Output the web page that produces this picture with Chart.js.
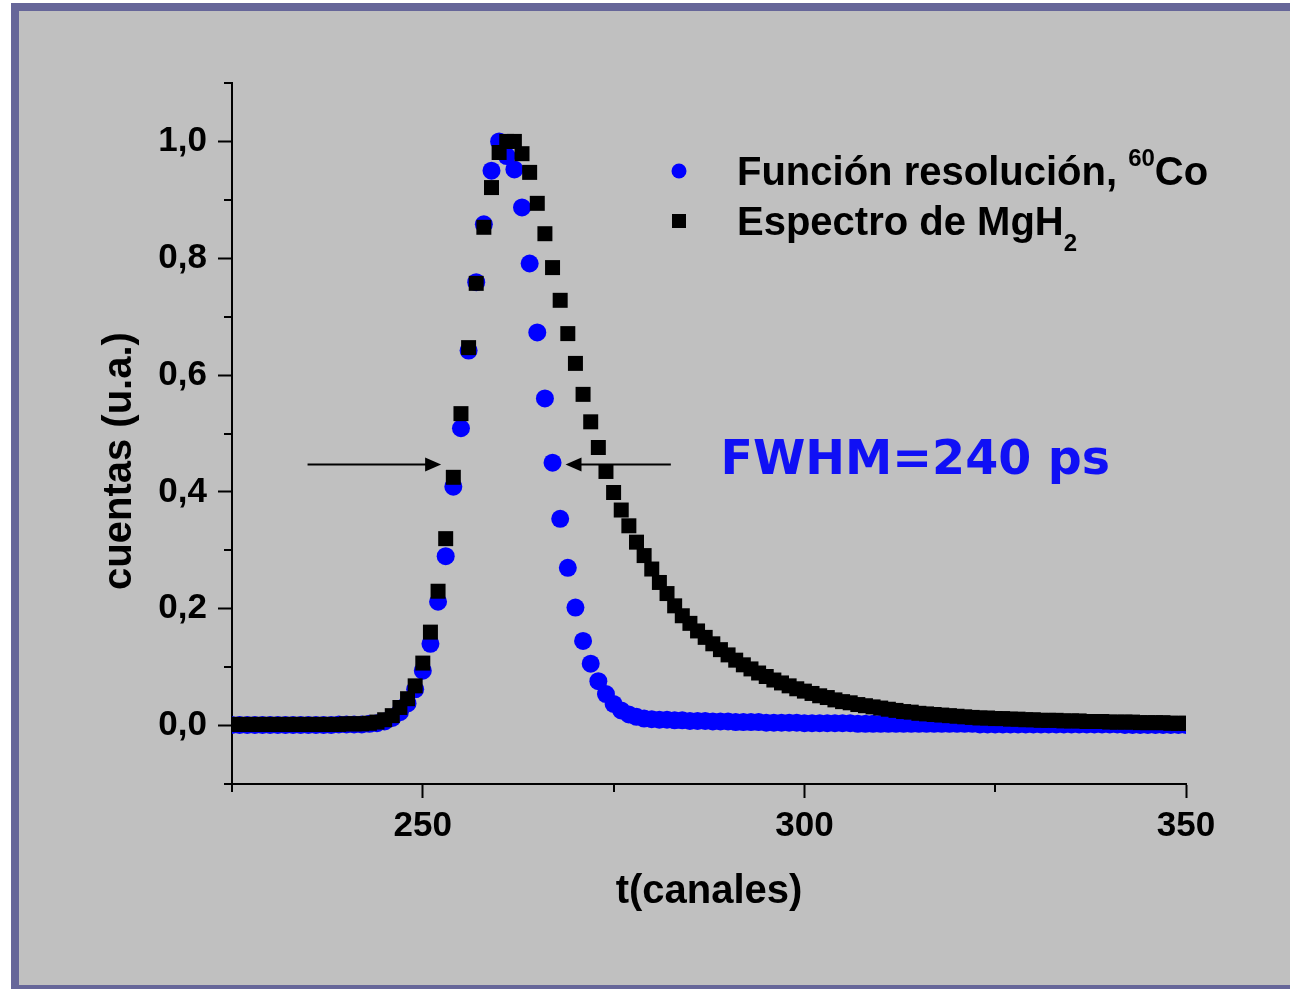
<!DOCTYPE html>
<html>
<head>
<meta charset="utf-8">
<title>Función resolución y espectro de MgH2</title>
<script src="https://cdn.jsdelivr.net/npm/chart.js"></script>
<style>
    html, body { margin: 0; padding: 0; background: #fff; overflow: hidden; }
    .frame { position: absolute; left: 11px; top: 3px; width: 1320px; height: 990px; box-sizing: border-box; border: 8px solid #666699; background: #c0c0c0; }
    #chart { position: absolute; left: 0; top: 0; }
</style>
</head>
<body>
<div class="frame"></div>
<canvas id="chart" width="1290" height="989"></canvas>

<script>
    // channels (t, canales)
    const channels = [
        225, 226, 227, 228, 229, 230, 231, 232, 233, 234, 235, 236, 237, 238, 239, 240, 241, 242, 243, 244,
        245, 246, 247, 248, 249, 250, 251, 252, 253, 254, 255, 256, 257, 258, 259, 260, 261, 262, 263, 264,
        265, 266, 267, 268, 269, 270, 271, 272, 273, 274, 275, 276, 277, 278, 279, 280, 281, 282, 283, 284,
        285, 286, 287, 288, 289, 290, 291, 292, 293, 294, 295, 296, 297, 298, 299, 300, 301, 302, 303, 304,
        305, 306, 307, 308, 309, 310, 311, 312, 313, 314, 315, 316, 317, 318, 319, 320, 321, 322, 323, 324,
        325, 326, 327, 328, 329, 330, 331, 332, 333, 334, 335, 336, 337, 338, 339, 340, 341, 342, 343, 344,
        345, 346, 347, 348, 349, 350
    ];

    // Función resolución, 60Co
    const resolucion = [
        0.001, 0.001, 0.001, 0.001, 0.001, 0.001, 0.001, 0.001, 0.001, 0.001, 0.001, 0.001, 0.001, 0.001, 0.002, 0.002, 0.002, 0.002, 0.003, 0.004,
        0.007, 0.013, 0.023, 0.038, 0.062, 0.094, 0.140, 0.212, 0.290, 0.409, 0.509, 0.642, 0.759, 0.858, 0.950, 1.000, 0.975, 0.952, 0.887, 0.791,
        0.673, 0.560, 0.450, 0.354, 0.270, 0.202, 0.145, 0.106, 0.076, 0.054, 0.037, 0.026, 0.019, 0.015, 0.012, 0.011, 0.010, 0.010, 0.009, 0.009,
        0.008, 0.008, 0.008, 0.007, 0.007, 0.007, 0.006, 0.006, 0.006, 0.006, 0.005, 0.005, 0.005, 0.005, 0.005, 0.004, 0.004, 0.004, 0.004, 0.004,
        0.004, 0.004, 0.003, 0.003, 0.003, 0.003, 0.003, 0.003, 0.003, 0.003, 0.003, 0.003, 0.003, 0.003, 0.003, 0.003, 0.003, 0.003, 0.002, 0.002,
        0.002, 0.002, 0.002, 0.002, 0.002, 0.002, 0.002, 0.002, 0.002, 0.002, 0.002, 0.002, 0.002, 0.002, 0.002, 0.002, 0.002, 0.001, 0.001, 0.001,
        0.001, 0.001, 0.001, 0.001, 0.001, 0.001
    ];

    // Espectro de MgH2
    const espectro = [
        0.002, 0.002, 0.002, 0.002, 0.002, 0.002, 0.002, 0.002, 0.002, 0.002, 0.002, 0.002, 0.002, 0.002, 0.002, 0.003, 0.003, 0.003, 0.004, 0.006,
        0.010, 0.017, 0.031, 0.046, 0.068, 0.107, 0.160, 0.230, 0.320, 0.425, 0.534, 0.647, 0.757, 0.853, 0.921, 0.981, 1.000, 1.000, 0.979, 0.947,
        0.894, 0.842, 0.784, 0.728, 0.671, 0.620, 0.567, 0.520, 0.476, 0.435, 0.399, 0.369, 0.342, 0.314, 0.291, 0.268, 0.245, 0.226, 0.205, 0.188,
        0.175, 0.162, 0.151, 0.140, 0.130, 0.121, 0.112, 0.104, 0.097, 0.090, 0.084, 0.078, 0.073, 0.068, 0.063, 0.059, 0.055, 0.051, 0.048, 0.044,
        0.041, 0.039, 0.036, 0.034, 0.032, 0.030, 0.028, 0.026, 0.024, 0.023, 0.021, 0.020, 0.019, 0.018, 0.017, 0.016, 0.015, 0.014, 0.013, 0.013,
        0.012, 0.012, 0.011, 0.011, 0.010, 0.010, 0.009, 0.009, 0.009, 0.008, 0.008, 0.008, 0.007, 0.007, 0.007, 0.006, 0.006, 0.006, 0.006, 0.005,
        0.005, 0.005, 0.005, 0.004, 0.004, 0.004
    ];

    const xTicks = [250, 300, 350];
    const xMinorTicks = [225, 275, 325];
    const yTicks = [0, 0.2, 0.4, 0.6, 0.8, 1.0];
    const yMinorTicks = [-0.1, 0.1, 0.3, 0.5, 0.7, 0.9, 1.1];

    const FONT = '"Liberation Sans", Arial, sans-serif';

    function arrow(ctx, x1, y1, x2, y2) {
        const dir = Math.sign(x2 - x1);
        ctx.beginPath();
        ctx.moveTo(x1, y1);
        ctx.lineTo(x2 - dir * 12, y2);
        ctx.stroke();
        ctx.beginPath();
        ctx.moveTo(x2, y2);
        ctx.lineTo(x2 - dir * 16, y2 - 7);
        ctx.lineTo(x2 - dir * 16, y2 + 7);
        ctx.closePath();
        ctx.fill();
    }

    const extras = {
        id: 'extras',
        afterDraw(chart) {
            const { ctx, chartArea, scales } = chart;
            const x = scales.x, y = scales.y;
            ctx.save();
            ctx.strokeStyle = '#000';
            ctx.fillStyle = '#000';
            ctx.lineWidth = 2;

            // minor ticks
            yMinorTicks.forEach(v => {
                const py = Math.round(y.getPixelForValue(v));
                ctx.beginPath();
                ctx.moveTo(chartArea.left, py);
                ctx.lineTo(chartArea.left - 8, py);
                ctx.stroke();
            });
            xMinorTicks.forEach(v => {
                const px = Math.round(x.getPixelForValue(v));
                ctx.beginPath();
                ctx.moveTo(px, chartArea.bottom);
                ctx.lineTo(px, chartArea.bottom + 8);
                ctx.stroke();
            });

            // FWHM arrows
            const ay = y.getPixelForValue(0.447);
            arrow(ctx, x.getPixelForValue(234.9), ay, x.getPixelForValue(252.4), ay);
            arrow(ctx, x.getPixelForValue(282.5), ay, x.getPixelForValue(268.7), ay);

            ctx.fillStyle = '#1010f5';
            ctx.font = 'bold 47.5px "DejaVu Sans", Verdana, sans-serif';
            ctx.textBaseline = 'middle';
            ctx.textAlign = 'left';
            ctx.fillText('FWHM=240 ps', x.getPixelForValue(289.0), y.getPixelForValue(0.452));

            // legend
            ctx.fillStyle = '#0000ff';
            ctx.beginPath();
            ctx.arc(679, 171, 7.5, 0, Math.PI * 2);
            ctx.fill();
            ctx.fillStyle = '#000';
            ctx.fillRect(672, 214, 14, 14);

            ctx.textBaseline = 'alphabetic';
            ctx.font = 'bold 40px ' + FONT;
            let tx = 737;
            const t1 = 'Función resolución, ';
            ctx.fillText(t1, tx, 185);
            tx += ctx.measureText(t1).width;
            ctx.font = 'bold 24px ' + FONT;
            ctx.fillText('60', tx, 166);
            tx += ctx.measureText('60').width;
            ctx.font = 'bold 40px ' + FONT;
            ctx.fillText('Co', tx, 185);

            const t2 = 'Espectro de MgH';
            ctx.fillText(t2, 737, 235);
            const tx2 = 737 + ctx.measureText(t2).width;
            ctx.font = 'bold 24px ' + FONT;
            ctx.fillText('2', tx2, 251);

            // axis titles
            ctx.font = 'bold 40px ' + FONT;
            ctx.textAlign = 'center';
            ctx.textBaseline = 'middle';
            ctx.fillText('t(canales)', (chartArea.left + chartArea.right) / 2, 892);
            ctx.translate(120, 461);
            ctx.rotate(-Math.PI / 2);
            ctx.fillText('cuentas (u.a.)', 0, 0);

            ctx.restore();
        }
    };

    const ctx = document.getElementById('chart').getContext('2d');
    const chart = new Chart(ctx, {
        type: 'scatter',
        data: {
            datasets: [
                {
                    label: 'Función resolución, 60Co',
                    data: channels.map((c, i) => ({ x: c, y: resolucion[i] })),
                    pointStyle: 'circle',
                    pointRadius: 9,
                    pointHoverRadius: 9,
                    pointBorderWidth: 0,
                    backgroundColor: '#0000ff',
                    borderColor: '#0000ff',
                    clip: 0,
                    order: 2
                },
                {
                    label: 'Espectro de MgH2',
                    data: channels.map((c, i) => ({ x: c, y: espectro[i] })),
                    pointStyle: 'rect',
                    pointRadius: 10.6,
                    pointHoverRadius: 10.6,
                    pointBorderWidth: 0,
                    backgroundColor: '#000',
                    borderColor: '#000',
                    clip: 0,
                    order: 1
                }
            ]
        },
        options: {
            responsive: false,
            animation: false,
            events: [],
            layout: { padding: { left: 0, top: 83, right: 104, bottom: 0 } },
            plugins: { legend: { display: false }, tooltip: { enabled: false } },
            scales: {
                x: {
                    type: 'linear',
                    min: 225,
                    max: 350,
                    afterBuildTicks: s => { s.ticks = xTicks.map(v => ({ value: v })); },
                    afterFit: s => { s.height = 205; },
                    ticks: {
                        color: '#000',
                        font: { family: FONT, size: 35, weight: 'bold' },
                        padding: 7,
                        maxRotation: 0,
                        autoSkip: false
                    },
                    grid: { drawOnChartArea: false, drawTicks: true, tickLength: 14, tickWidth: 2, tickColor: '#000', color: '#000' },
                    border: { display: true, color: '#000', width: 2 }
                },
                y: {
                    type: 'linear',
                    min: -0.1,
                    max: 1.1,
                    afterBuildTicks: s => { s.ticks = yTicks.map(v => ({ value: v })); },
                    afterFit: s => { s.width = 232; },
                    ticks: {
                        color: '#000',
                        font: { family: FONT, size: 35, weight: 'bold' },
                        padding: 11,
                        callback: v => v.toFixed(1).replace('.', ',')
                    },
                    grid: { drawOnChartArea: false, drawTicks: true, tickLength: 14, tickWidth: 2, tickColor: '#000', color: '#000' },
                    border: { display: true, color: '#000', width: 2 }
                }
            }
        },
        plugins: [extras]
    });
</script>
</body>
</html>
